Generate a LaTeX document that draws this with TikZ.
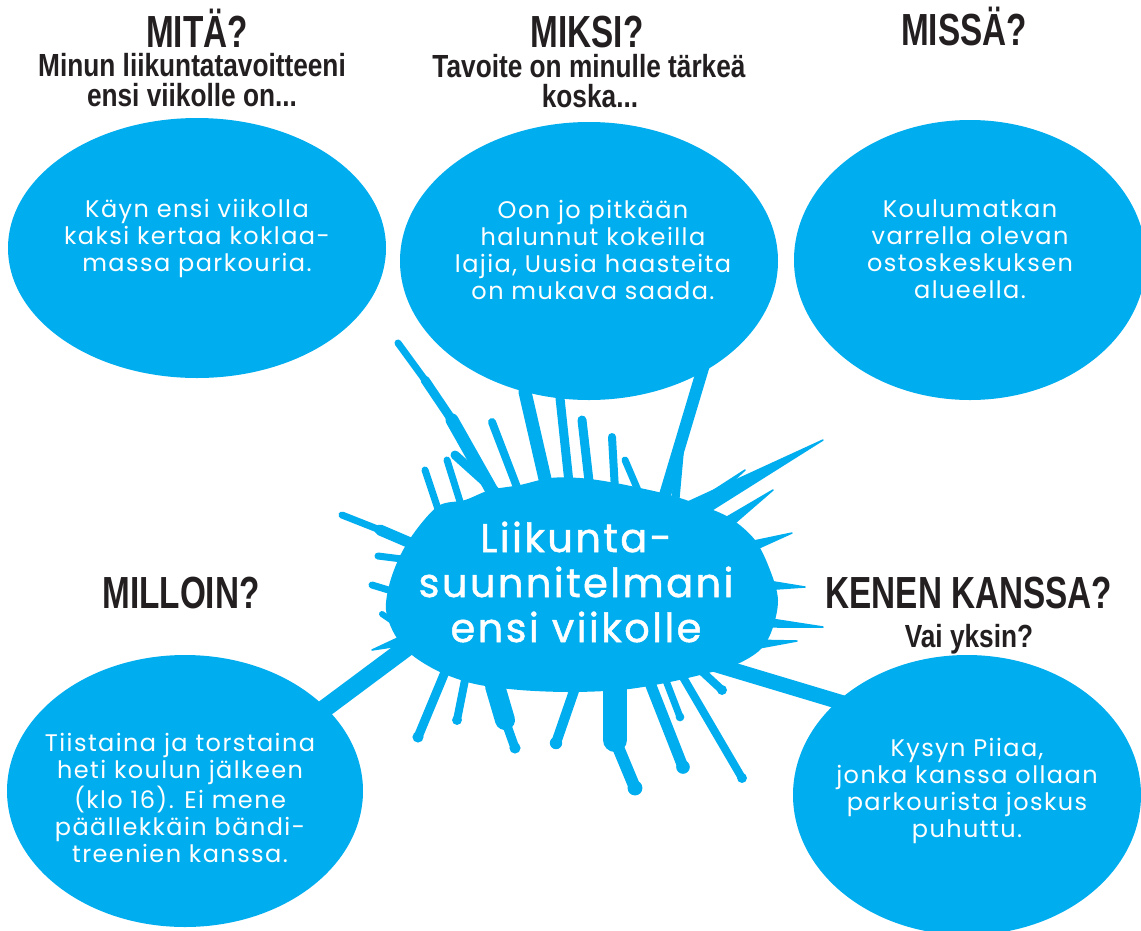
\documentclass[tikz,border=0pt]{standalone}
\usepackage{fontspec}
\usetikzlibrary{shapes.geometric,calc}
\newfontfamily\headfont{Liberation Sans}[FakeStretch=0.74]
\newfontfamily\subfont{Liberation Sans}[FakeStretch=0.82]
\newfontfamily\handfont{Poppins}[LetterSpace=6]
\newfontfamily\titlefont{Poppins}[LetterSpace=6,FakeBold=1.2]
\definecolor{splashblue}{HTML}{00AEEF}
\definecolor{inkblack}{HTML}{231F20}
\newcommand{\spikeshape}[3]{\filldraw[splashfill] ($(#1)!#3!90:(#2)$) -- (#2) -- ($(#1)!#3!-90:(#2)$) -- cycle;}
\newcommand{\strandline}[3]{\draw[strandstyle, line width=#3] (#1) -- (#2);}
\newcommand{\dripline}[3]{\draw[strandstyle, line width=#3] (#1) -- (#2); \fill[splashblue] (#2) circle[radius=0.62*#3];}
\tikzset{
  splashfill/.style={fill=splashblue, draw=splashblue, line width=1.5pt, line join=round},
  strandstyle/.style={draw=splashblue, line cap=round, line join=round},
  bubble/.style={ellipse, fill=splashblue, inner sep=0pt},
  heading/.style={font=\headfont\bfseries\fontsize{45}{45}\selectfont, text=inkblack, anchor=base, inner sep=0pt, text depth=0pt},
  subhead/.style={font=\subfont\bfseries\fontsize{32}{32}\selectfont, text=inkblack, anchor=base, inner sep=0pt, text height=24pt},
  hand/.style={font=\handfont\fontsize{24}{27}\selectfont, text=white, align=center, anchor=base, inner sep=0pt},
  title/.style={font=\titlefont\fontsize{40}{45}\selectfont, text=white, align=center, anchor=base, inner sep=0pt}
}
\begin{document}
\begin{tikzpicture}[x=1pt,y=-1pt]
\useasboundingbox (0,0) rectangle (1141,930);
\fill[white] (0,0) rectangle (1141,930);

% ---------- splash ----------
\fill[splashblue] plot[smooth cycle, tension=0.55] coordinates {
 (420,525) (440,505) (465,500) (490,490) (520,485) (550,478) (580,478)
 (610,482) (640,488) (670,495) (700,505) (730,518) (755,540) (770,570)
 (778,600) (772,630) (760,650) (735,665) (700,675) (660,684) (620,690)
 (570,692) (520,690) (475,684) (440,672) (412,655) (395,635) (386,610)
 (390,582) (402,552)};
% sharp spikes
\foreach \a/\b/\c/\d/\w in {
 690/512/823/440/10, 720/528/773/490/6, 740/550/792/533/6, 762/585/805/587/5,
 758/622/823/627/5, 748/645/797/641/5, 700/505/745/470/5, 405/640/372/650/5}
 {\spikeshape{\a,\b}{\c,\d}{\w pt}}
% strands
\strandline{500,505}{452,420}{13pt}
\strandline{452,420}{425,380}{9pt}
\strandline{425,380}{398,343}{7pt}
\strandline{505,500}{455,455}{9pt}
\strandline{520,495}{492,422}{8pt}
\strandline{590,490}{582,420}{9pt}
\strandline{615,490}{612,437}{8pt}
\strandline{640,495}{625,460}{7pt}
\strandline{675,505}{680,450}{8pt}
\strandline{415,545}{380,530}{11pt}
\strandline{380,530}{342,515}{7pt}
\strandline{440,515}{425,470}{7pt}
\strandline{462,508}{447,460}{7pt}
\strandline{410,560}{378,556}{7pt}
\strandline{405,595}{372,585}{7pt}
\strandline{398,625}{382,614}{6pt}
% drips
\dripline{695,665}{722,690}{8pt}
\dripline{680,672}{742,778}{8pt}
\dripline{665,678}{680,717}{7pt}
\dripline{650,683}{683,767}{11pt}
\strandline{615,686}{615,740}{24pt}
\dripline{615,740}{635,788}{12pt}
\dripline{575,688}{556,743}{10pt}
\strandline{495,686}{505,720}{20pt}
\dripline{505,720}{515,748}{9pt}
\dripline{465,680}{457,720}{8pt}
\dripline{445,672}{418,737}{9pt}

% ---------- bubbles ----------
\node[bubble, minimum width=378pt, minimum height=260pt] (mita) at (197,248) {};
\node[bubble, minimum width=378pt, minimum height=278pt] (miksi) at (589,261) {};
\node[bubble, minimum width=352pt, minimum height=280pt] (missa) at (970,260) {};
\node[bubble, minimum width=356pt, minimum height=272pt] (milloin) at (185,791) {};
\node[bubble, minimum width=348pt, minimum height=280pt] (kenen) at (967,795) {};

% tendrils joining the splash to the bubbles
\coordinate (baseA) at (548,492);
\coordinate (baseB) at (570,492);
\coordinate (baseC) at (662,505);
\coordinate (baseK) at (700,660);
\coordinate (baseM) at (410,645);
\coordinate (miksiA) at (525,392);
\coordinate (miksiB) at (560,398);
\coordinate (miksiC) at (706,358);
\coordinate (kenenT) at (850,705);
\coordinate (milloinT) at (320,712);
\draw[strandstyle, line width=13pt] (baseA) -- (miksiA);
\draw[strandstyle, line width=9pt] (baseB) -- (miksiB);
\draw[strandstyle, line width=12pt] (baseC) -- (miksiC);
\draw[strandstyle, line width=15pt] (baseK) -- (kenenT);
\draw[strandstyle, line width=18pt] (baseM) -- (milloinT);

% ---------- headings ----------
\node[heading] (hmita) at (197,47) {MITÄ?};
\node[subhead] (smita1) at (192,76) {Minun liikuntatavoitteeni};
\node[subhead] (smita2) at (192,106) {ensi viikolle on...};
\node[heading] (hmiksi) at (587,47) {MIKSI?};
\node[subhead] (smiksi1) at (589,77) {Tavoite on minulle tärkeä};
\node[subhead] (smiksi2) at (590,107) {koska...};
\node[heading] (hmissa) at (964,45) {MISSÄ?};
\node[heading] (hmilloin) at (181,608) {MILLOIN?};
\node[heading] (hkenen) at (969,608) {KENEN KANSSA?};
\node[subhead] (skenen) at (969,647) {Vai yksin?};

% ---------- texts ----------
\node[title] (title) at (576,642) {Liikunta-\\suunnitelmani\\ensi viikolle};
\node[hand] (tmita) at (197,271) {Käyn ensi viikolla\\kaksi kertaa koklaa-\\massa parkouria.};
\node[hand] (tmiksi) at (593,299) {Oon jo pitkään\\halunnut kokeilla\\lajia, Uusia haasteita\\on mukava saada.};
\node[hand] (tmissa) at (970,298) {Koulumatkan\\varrella olevan\\ostoskeskuksen\\alueella.};
\node[hand] (tmilloin) at (180,862) {Tiistaina ja torstaina\\heti koulun jälkeen\\(klo 16). Ei mene\\päällekkäin bändi-\\treenien kanssa.};
\node[hand] (tkenen) at (967,837) {Kysyn Piiaa,\\jonka kanssa ollaan\\parkourista joskus\\puhuttu.};
\end{tikzpicture}
\end{document}
